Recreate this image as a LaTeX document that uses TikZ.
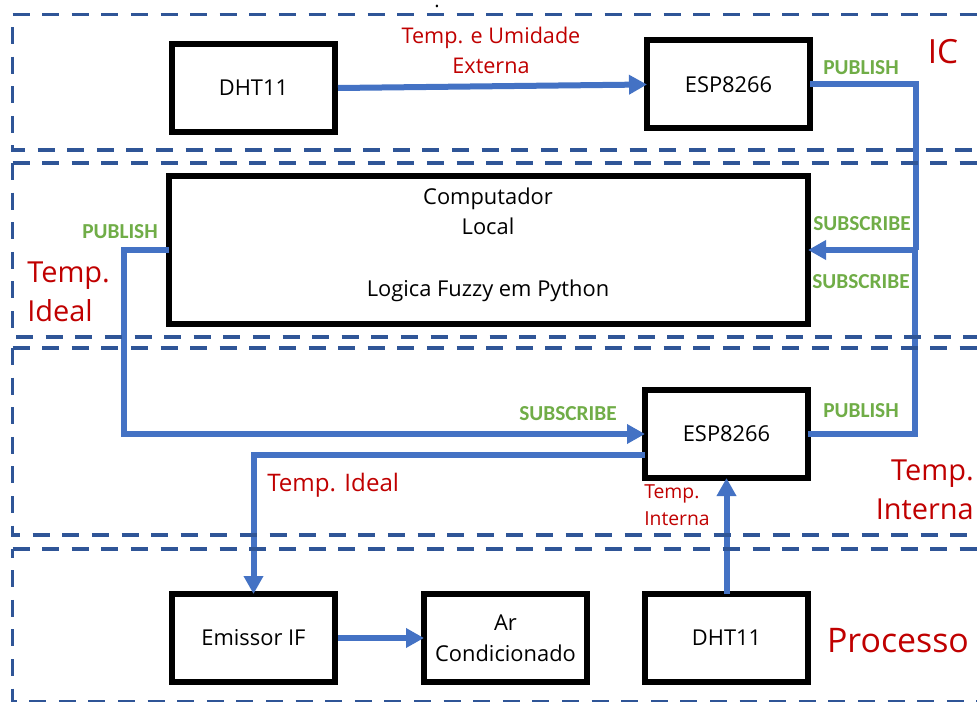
\documentclass[tikz,border=0pt]{standalone}
\usepackage{fontspec}
\usetikzlibrary{arrows.meta}
\setmainfont{Open Sans}
\newfontfamily\greenfont{Carlito}
\definecolor{dashblue}{HTML}{2F5597}
\definecolor{linkblue}{HTML}{4472C4}
\definecolor{redtxt}{HTML}{C00000}
\definecolor{greentxt}{HTML}{70AD47}
\newcommand{\lowertxt}[1]{\raisebox{-0.8pt}{#1}}
\tikzset{
  x=0.75pt,y=-0.75pt,
  boxn/.style={draw=black,line width=4.5pt,fill=white,inner sep=0pt,outer sep=0pt,
    align=center,font=\fontsize{16.4}{23}\selectfont,minimum height=66pt},
  stdbox/.style={boxn,minimum width=122.25pt},
  black text/.style={inner sep=0pt,align=center,font=\fontsize{16.4}{23}\selectfont},
  link/.style={draw=linkblue,line width=4.5pt},
  arrowlink/.style={link,-{Triangle[length=13.5pt,width=14pt]}},
  zone/.style={draw=dashblue,line width=2.8pt,dash pattern=on 12.75pt off 9.45pt},
  greenlab/.style={inner sep=0pt,text=greentxt,font=\greenfont\bfseries\fontsize{16}{19}\selectfont},
  redmid/.style={inner sep=0pt,text=redtxt,align=left,font=\fontsize{16.2}{22.5}\selectfont},
  redbig/.style={inner sep=0pt,text=redtxt,font=\fontsize{21.7}{29.5}\selectfont},
  redsmall/.style={inner sep=0pt,text=redtxt,align=left,font=\fontsize{14.5}{20}\selectfont},
}
\begin{document}
\begin{tikzpicture}
\useasboundingbox[fill=white] (0,0) rectangle (977,702);

% boxes
\node[stdbox] (dhtA) at (253.5,88) {\lowertxt{DHT11}};
\node[stdbox] (espA) at (728.5,84.5) {\raisebox{-1.2pt}{ESP8266}};
\node[boxn,minimum width=479.25pt,minimum height=111pt] (comp) at (488.5,250) {};
\node[stdbox] (espB) at (726.5,434) {\lowertxt{ESP8266}};
\node[stdbox] (emis) at (253.5,638) {\lowertxt{Emissor IF}};
\node[stdbox] (arc) at (505.5,638) {\lowertxt{Ar}\\\lowertxt{Condicionado}};
\node[stdbox] (dhtB) at (726.5,638) {\lowertxt{DHT11}};
\node[black text] (compT) at (488,244.5) {Computador\\Local\\ \\Logica Fuzzy em Python};
\node[inner sep=0pt,font=\fontsize{15}{18}\selectfont] (dot) at (437,6) {.};

% connector bend points
\coordinate (c1) at (916,84.5);
\coordinate (c2) at (916,250);
\coordinate (c3) at (915,434);
\coordinate (c4) at (915,250);
\coordinate (c5) at (124,250);
\coordinate (c6) at (124,434);
\coordinate (c7) at (253.5,455);

% connectors
\draw[arrowlink] ([xshift=2.25pt]dhtA.east) -- (espA.west);
\draw[link] (espA.east) -- (c1) -- (c2);
\draw[arrowlink] (c2) -- (comp.east);
\draw[link] (espB.east) -- (c3) -- (c4);
\draw[arrowlink] (comp.west) -- (c5) -- (c6) -- (espB.west);
\draw[arrowlink] ([yshift=-15.75pt]espB.west) -- (c7) -- (emis.north);
\draw[arrowlink] ([xshift=2.25pt]emis.east) -- (arc.west);
\draw[arrowlink] (dhtB.north) -- (espB.south);

% dashed zones
\coordinate (zA) at (12.5,14.5);
\coordinate (zAr) at (977,14.5);
\coordinate (zAb) at (12.5,150);
\coordinate (zAbr) at (977,150);
\coordinate (zB) at (12.5,163);
\coordinate (zBr) at (977,163);
\coordinate (zBb) at (12.5,337);
\coordinate (zBbr) at (977,337);
\coordinate (zC) at (12.5,348);
\coordinate (zCr) at (977,348);
\coordinate (zCb) at (12.5,535);
\coordinate (zCbr) at (977,535);
\coordinate (zD) at (12.5,549);
\coordinate (zDr) at (977,549);
\coordinate (zDb) at (12.5,701.5);
\coordinate (zDbr) at (977,701.5);
\draw[zone] (zA) -- (zAr);
\draw[zone,dash phase=12.75pt] (zA) -- (zAb) -- (zAbr);
\draw[zone] (zB) -- (zBr);
\draw[zone] (zB) -- (zBb) -- (zBbr);
\draw[zone] (zC) -- (zCr);
\draw[zone] (zC) -- (zCb) -- (zCbr);
\draw[zone] (zD) -- (zDr);
\draw[zone,dash phase=6.3pt] (zD) -- (zDb) -- (zDbr);

% labels
\node[redmid,align=center] (lTU) at (491,50) {Temp. e Umidade\\Externa};
\node[inner sep=0pt,text=redtxt,font=\fontsize{25}{30}\selectfont] (lIC) at (943,52) {IC};
\node[greenlab] (pA) at (861,68) {PUBLISH};
\node[greenlab] (pB) at (861,411) {PUBLISH};
\node[greenlab] (pC) at (120,232) {PUBLISH};
\node[greenlab] (sA) at (862,224) {SUBSCRIBE};
\node[greenlab] (sB) at (861,282) {SUBSCRIBE};
\node[greenlab] (sC) at (568,414) {SUBSCRIBE};
\node[redbig,align=left,anchor=west] (lTI) at (27,291.5) {Temp.\\Ideal};
\node[redmid,anchor=west,font=\fontsize{18.1}{22}\selectfont] (lTI2) at (267,485) {Temp. Ideal};
\node[redsmall,anchor=west] (lTN) at (644,505.5) {Temp.\\Interna};
\node[redbig,align=right,anchor=east] (lTN2) at (974,489.5) {Temp.\\Interna};
\node[inner sep=0pt,text=redtxt,font=\fontsize{25.4}{30}\selectfont] (lP) at (898,641) {Processo};
\end{tikzpicture}
\end{document}
